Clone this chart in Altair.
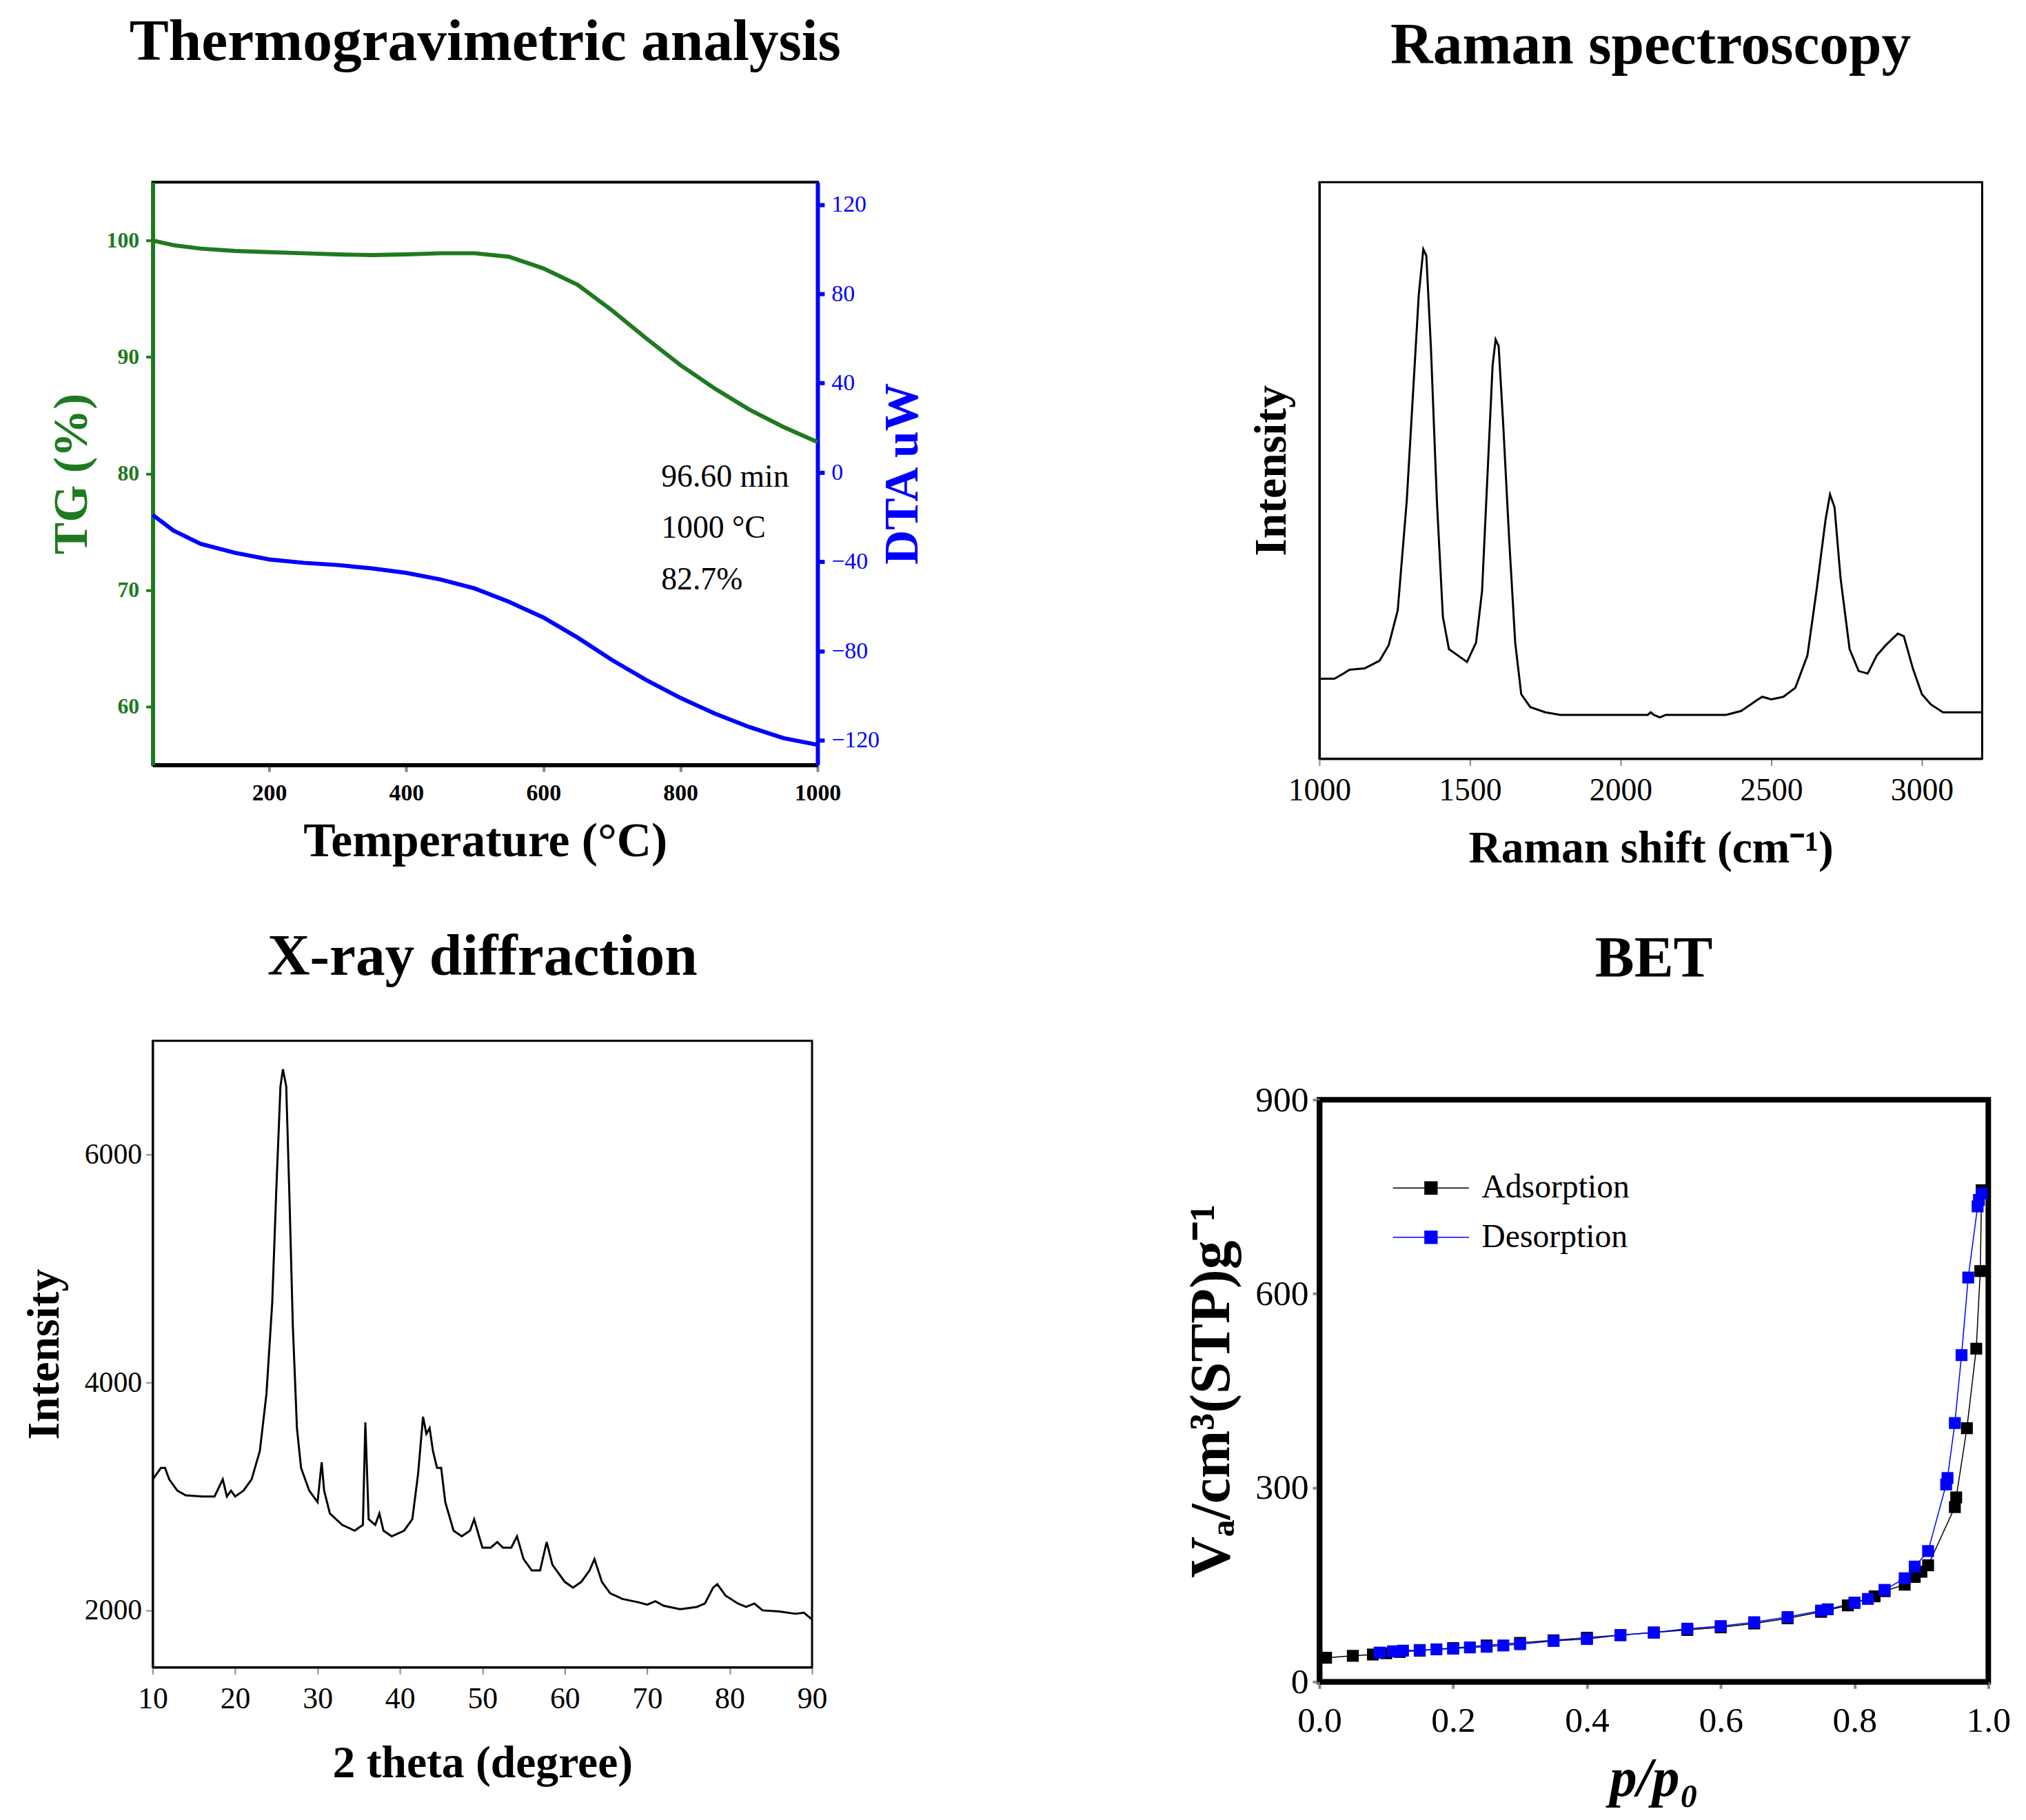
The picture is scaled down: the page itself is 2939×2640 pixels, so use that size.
import altair as alt
import pandas as pd

SERIF = "Liberation Serif"

# --- TGA ---
tg_temp = [30, 60, 100, 150, 200, 250, 300, 350, 400, 450, 500, 550, 600, 650, 700, 750, 800, 850, 900, 950, 1000]
tg_val = [100, 99.6, 99.3, 99.1, 99.0, 98.9, 98.8, 98.75, 98.8, 98.9, 98.9, 98.6, 97.6, 96.2, 94.0, 91.6, 89.3, 87.3, 85.5, 84.0, 82.7]
dta_temp = [30, 60, 100, 150, 200, 250, 300, 350, 400, 450, 500, 550, 600, 650, 700, 750, 800, 850, 900, 950, 1000]
dta_val = [-19, -26, -32, -36, -39, -40.5, -41.5, -43, -45, -48, -52, -58, -65, -74, -84, -93, -101, -108, -114, -119, -122]
note_lines = ["96.60 min", "1000 °C", "82.7%"]
note_y = [-2, -25, -48]

# --- Raman ---
raman_x = [1000, 1050, 1080, 1100, 1150, 1200, 1230, 1260, 1290, 1310, 1330, 1345, 1355, 1370, 1390, 1410, 1430, 1460, 1490, 1520, 1540,
           1560, 1575, 1585, 1595, 1610, 1630, 1650, 1670, 1700, 1750, 1800, 2000, 2090, 2100, 2110, 2130, 2150, 2350, 2400, 2450,
           2470, 2500, 2540, 2580, 2620, 2650, 2680, 2695, 2710, 2730, 2760, 2790, 2820, 2850, 2880, 2920, 2940, 2970, 3000, 3030, 3070, 3200]
raman_y = [62, 62, 66, 69, 70, 76, 88, 115, 200, 280, 360, 395, 390, 320, 200, 110, 85, 80, 75, 90, 130,
           230, 305, 325, 320, 260, 170, 90, 50, 40, 36, 34, 34, 34, 36, 34, 32, 34, 34, 37, 45,
           48, 46, 48, 55, 80, 130, 185, 205, 195, 140, 85, 68, 66, 80, 88, 97, 95, 70, 50, 42, 36, 36]

# --- XRD ---
xrd_x = [10, 11, 11.5, 12, 13, 14, 16, 17.5, 18.5, 19, 19.5, 20, 21, 22, 23, 23.8, 24.5, 25, 25.5, 25.8, 26.2, 26.6, 27, 27.5, 28, 29, 30,
         30.5, 30.8, 31.5, 33, 34.5, 35.5, 35.8, 36.2, 37, 37.5, 38, 39, 40.5, 41.5, 42.2, 42.8, 43.2, 43.6, 44, 44.5, 45, 45.5, 46.5, 47.5,
         48.5, 49, 50, 51, 51.8, 52.5, 53.5, 54.2, 55, 56, 57, 57.8, 58.5, 60, 61, 62, 63, 63.6, 64.5, 65.5, 67, 69, 70, 71, 72, 74,
         76, 77, 78, 78.5, 79.5, 81, 82, 83, 84, 86, 88, 89, 90]
xrd_y = [3150, 3250, 3250, 3150, 3050, 3010, 3000, 3000, 3150, 3000, 3050, 3000, 3050, 3150, 3400, 3900, 4700, 5700, 6600, 6750, 6600, 5600,
         4500, 3600, 3250, 3050, 2950, 3300, 3050, 2850, 2750, 2700, 2750, 3650, 2800, 2750, 2850, 2700, 2650, 2700, 2800, 3200, 3700,
         3550, 3600, 3400, 3250, 3250, 2950, 2700, 2650, 2700, 2800, 2550, 2550, 2600, 2550, 2550, 2650, 2450, 2350, 2350, 2600, 2400,
         2250, 2200, 2250, 2350, 2450, 2250, 2150, 2100, 2070, 2050, 2080, 2040, 2010, 2030, 2060, 2200, 2230, 2130, 2060, 2030,
         2060, 2000, 1990, 1970, 1980, 1920]

# --- BET ---
ads_p = [0.01, 0.05, 0.08, 0.1, 0.12, 0.15, 0.2, 0.25, 0.3, 0.35, 0.4, 0.45, 0.5, 0.55, 0.6, 0.65, 0.7, 0.75, 0.79, 0.8, 0.83, 0.845,
         0.875, 0.89, 0.9, 0.91, 0.95, 0.952, 0.968, 0.982, 0.988, 0.99]
ads_v = [37, 40, 42, 44, 46, 48, 52, 56, 60, 64, 68, 72, 76, 80, 84, 90, 98, 108, 118, 122, 132, 140, 150, 162, 170, 180, 270, 285,
         392, 515, 635, 760]
des_p = [0.99, 0.986, 0.984, 0.97, 0.96, 0.95, 0.939, 0.937, 0.91, 0.89, 0.875, 0.845, 0.82, 0.8, 0.76, 0.75, 0.7, 0.65, 0.6,
         0.55, 0.5, 0.45, 0.4, 0.35, 0.3, 0.275, 0.25, 0.225, 0.2, 0.175, 0.15, 0.125, 0.11, 0.09]
des_v = [755, 745, 735, 625, 505, 400, 315, 305, 202, 178, 160, 142, 128, 122, 112, 110, 100, 92, 86, 82, 76, 72, 66, 63, 58,
         56, 54, 53, 51, 50, 49, 48, 47, 45]

GREEN = "#1f7a1f"
BLUE = "#0000ff"


def ttl(text, offset):
    return alt.TitleParams(text, font=SERIF, fontSize=86, fontWeight="bold", color="black", offset=offset, anchor="middle")


def frame(w):
    return alt.ViewBackground(stroke="black", strokeWidth=w)


# TGA
tg_df = pd.DataFrame({"T": tg_temp, "TG": tg_val})
dta_df = pd.DataFrame({"T": dta_temp, "DTA": dta_val})
note_df = pd.DataFrame({"T": [772] * 3, "DTA": note_y, "label": note_lines})
xT = alt.X("T:Q", scale=alt.Scale(domain=[30, 1000], nice=False), title="Temperature (°C)",
           axis=alt.Axis(values=[200, 400, 600, 800, 1000], format="d", labelFlush=False, labelFont=SERIF,
                         labelFontWeight="bold", labelFontSize=34, titleFont=SERIF, titleFontWeight="bold",
                         titleFontSize=70, titlePadding=20, tickSize=10, tickWidth=4, domainWidth=6,
                         domainColor="black", labelPadding=14, grid=False))
tg = alt.Chart(tg_df).mark_line(color=GREEN, strokeWidth=6).encode(
    x=xT,
    y=alt.Y("TG:Q", scale=alt.Scale(domain=[55, 105], nice=False), title="TG (%)",
            axis=alt.Axis(values=[60, 70, 80, 90, 100], labelFont=SERIF, labelFontWeight="bold", labelFontSize=32,
                          labelColor=GREEN, titleColor=GREEN, titleFont=SERIF, titleFontWeight="bold", titleFontSize=70,
                          domainColor=GREEN, domainWidth=6, tickColor=GREEN, tickSize=10, tickWidth=4, grid=False,
                          labelPadding=10, titlePadding=14)))
dta_y = alt.Y("DTA:Q", scale=alt.Scale(domain=[-131, 130], nice=False), title="DTA uW",
              axis=alt.Axis(orient="right", values=[-120, -80, -40, 0, 40, 80, 120], labelFont=SERIF, labelFontSize=34,
                            labelColor=BLUE, titleColor=BLUE, titleFont=SERIF, titleFontWeight="bold", titleFontSize=70,
                            titleAngle=270, domainColor=BLUE, domainWidth=6, tickColor=BLUE, tickSize=10, tickWidth=6,
                            grid=False, labelPadding=10, titlePadding=70))
dta = alt.Chart(dta_df).mark_line(color=BLUE, strokeWidth=6).encode(x="T:Q", y=dta_y)
notes = alt.Chart(note_df).mark_text(font=SERIF, fontSize=46, align="left", color="black").encode(
    x="T:Q", y="DTA:Q", text="label:N")
tga = alt.layer(tg, alt.layer(dta, notes)).resolve_scale(y="independent").properties(
    width=971, height=851, title=ttl("Thermogravimetric analysis", 160), view=frame(4))

# Raman
raman = alt.Chart(pd.DataFrame({"x": raman_x, "y": raman_y})).mark_line(color="black", strokeWidth=3).encode(
    x=alt.X("x:Q", scale=alt.Scale(domain=[1000, 3200], nice=False), title="Raman shift (cm⁻¹)",
            axis=alt.Axis(values=[1000, 1500, 2000, 2500, 3000], format="d", labelFlush=False, labelFont=SERIF,
                          labelFontSize=46, titleFont=SERIF, titleFontWeight="bold", titleFontSize=66, titlePadding=30,
                          tickSize=10, tickWidth=2, domainColor="black", domainWidth=3, labelPadding=14, grid=False)),
    y=alt.Y("y:Q", scale=alt.Scale(domain=[0, 447], nice=False), title="Intensity",
            axis=alt.Axis(labels=False, ticks=False, titleFont=SERIF, titleFontWeight="bold", titleFontSize=66,
                          domainColor="black", domainWidth=3, grid=False, titlePadding=36)),
).properties(width=968, height=842, title=ttl("Raman spectroscopy", 155), view=frame(3))

# XRD
xrd = alt.Chart(pd.DataFrame({"x": xrd_x, "y": xrd_y})).mark_line(color="black", strokeWidth=3).encode(
    x=alt.X("x:Q", scale=alt.Scale(domain=[10, 90], nice=False), title="2 theta (degree)",
            axis=alt.Axis(values=list(range(10, 91, 10)), labelFlush=False, labelFont=SERIF, labelFontSize=44,
                          titleFont=SERIF, titleFontWeight="bold", titleFontSize=66, titlePadding=40, tickSize=10,
                          tickWidth=2, domainColor="black", domainWidth=3, labelPadding=14, grid=False)),
    y=alt.Y("y:Q", scale=alt.Scale(domain=[1500, 7000], nice=False), title="Intensity",
            axis=alt.Axis(values=[2000, 4000, 6000], format="d", labelFont=SERIF, labelFontSize=42, titleFont=SERIF,
                          titleFontWeight="bold", titleFontSize=66, tickSize=10, tickWidth=2, domainColor="black",
                          domainWidth=3, grid=False, labelPadding=6, titlePadding=24)),
).properties(width=963, height=915, title=ttl("X-ray diffraction", 78), view=frame(3))

# BET
bet_df = pd.concat([
    pd.DataFrame({"p": ads_p, "v": ads_v, "s": "Adsorption", "o": range(len(ads_p))}),
    pd.DataFrame({"p": des_p, "v": des_v, "s": "Desorption", "o": range(len(des_p))}),
])
bet_scale = alt.Scale(domain=["Adsorption", "Desorption"], range=["black", BLUE])
legend_symbol = "M-3.7,0H-0.6M-0.6,-0.6H0.6V0.6H-0.6ZM0.6,0H3.7"
bet_color = alt.Color("s:N", scale=bet_scale,
                      legend=alt.Legend(title=None, orient="none", legendX=1843, legendY=1445, symbolType=legend_symbol,
                                        symbolSize=900, symbolStrokeWidth=1.5, labelFont=SERIF, labelFontSize=48,
                                        rowPadding=24, labelLimit=600, labelOffset=50))
bx = alt.X("p:Q", scale=alt.Scale(domain=[0, 1], nice=False), title="p/p₀",
           axis=alt.Axis(values=[0, 0.2, 0.4, 0.6, 0.8, 1.0], format=".1f", labelFlush=False, labelFont=SERIF,
                         labelFontSize=52, titleFont=SERIF, titleFontWeight="bold", titleFontStyle="italic",
                         titleFontSize=80, tickSize=10, tickWidth=4, domainColor="black", domainWidth=8, grid=False,
                         labelPadding=22, titlePadding=20))
by = alt.Y("v:Q", scale=alt.Scale(domain=[0, 900], nice=False), title="Vₐ/cm³(STP)g⁻¹",
           axis=alt.Axis(values=[0, 300, 600, 900], labelFont=SERIF, labelFontSize=52, titleFont=SERIF,
                         titleFontWeight="bold", titleFontSize=84, tickSize=10, tickWidth=4, domainColor="black",
                         domainWidth=8, grid=False, labelPadding=6, titlePadding=20, labelFlush=False))
bet_line = alt.Chart(bet_df).mark_line(strokeWidth=1.5).encode(x=bx, y=by, color=bet_color, order="o:Q")
bet_pts = alt.Chart(bet_df).mark_square(size=300, opacity=1).encode(x="p:Q", y="v:Q", color=bet_color)
bet = alt.layer(bet_line, bet_pts).properties(width=977, height=850, title=ttl("BET", 135), view=frame(8))

left = alt.vconcat(tga, xrd, spacing=87)
right = alt.vconcat(raman, bet, spacing=80)
chart = alt.hconcat(left, right, spacing=368).configure(
    padding={"left": 22, "top": 0, "right": 10, "bottom": 10}, background="white")

chart.save("out.html", embed_options={"renderer": "svg", "actions": False})
